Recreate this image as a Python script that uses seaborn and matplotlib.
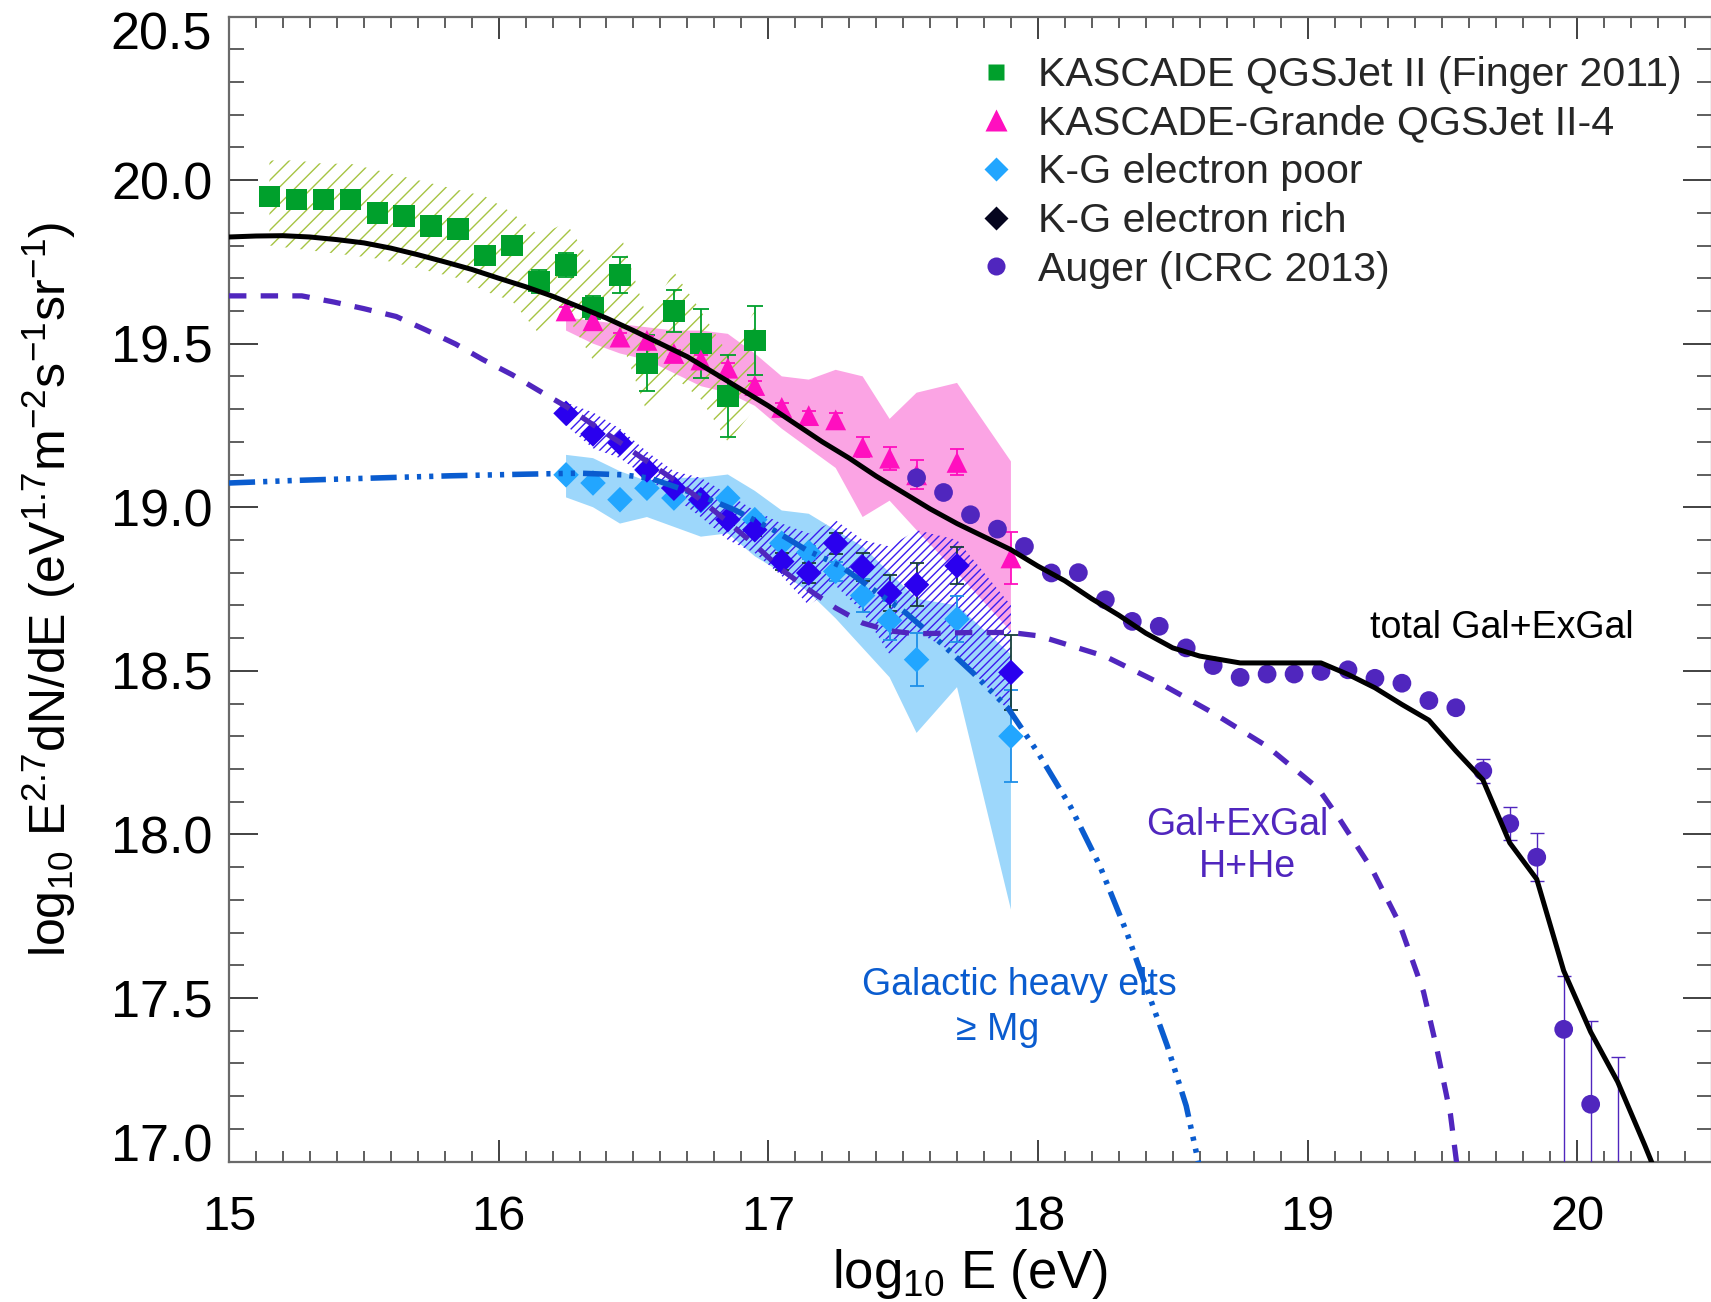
import matplotlib
matplotlib.use("Agg")
import matplotlib.pyplot as plt
import seaborn as sns
from matplotlib.lines import Line2D
from matplotlib.ticker import MultipleLocator
from matplotlib.transforms import ScaledTranslation

# ---------------- data ----------------
kascade_x = [15.15, 15.25, 15.35, 15.45, 15.55, 15.65, 15.75, 15.85, 15.95, 16.05,
             16.15, 16.25, 16.35, 16.45, 16.55, 16.65, 16.75, 16.85, 16.95]
kascade_y = [19.95, 19.94, 19.94, 19.94, 19.90, 19.89, 19.86, 19.85, 19.77, 19.80,
             19.69, 19.74, 19.61, 19.71, 19.44, 19.60, 19.50, 19.34, 19.51]
kascade_err = [0.01, 0.01, 0.01, 0.01, 0.01, 0.01, 0.01, 0.01, 0.01, 0.01,
               0.034, 0.037, 0.035, 0.054, 0.085, 0.064, 0.105, 0.125, 0.105]
kascade_band_hi = [20.06, 20.06, 20.05, 20.05, 20.03, 20.01, 19.99, 19.97, 19.95, 19.90,
                   19.83, 19.87, 19.74, 19.84, 19.58, 19.72, 19.60, 19.47, 19.60]
kascade_band_lo = [19.80, 19.79, 19.78, 19.77, 19.76, 19.74, 19.72, 19.70, 19.66, 19.63,
                   19.53, 19.59, 19.45, 19.52, 19.29, 19.40, 19.33, 19.20, 19.30]

grande_x = [16.25, 16.35, 16.45, 16.55, 16.65, 16.75, 16.85, 16.95,
            17.05, 17.15, 17.25, 17.35, 17.45, 17.55, 17.70, 17.90]
grande_y = [19.60, 19.57, 19.52, 19.51, 19.47, 19.45, 19.425, 19.372,
            19.305, 19.28, 19.267, 19.184, 19.15, 19.099, 19.137, 18.845]
grande_err = [0.012, 0.012, 0.012, 0.012, 0.012, 0.015, 0.015, 0.015,
              0.015, 0.015, 0.02, 0.03, 0.035, 0.044, 0.04, 0.079]
grande_band_hi = [19.58, 19.57, 19.56, 19.55, 19.54, 19.54, 19.53, 19.47,
                  19.40, 19.39, 19.42, 19.40, 19.27, 19.35, 19.38, 19.14]
grande_band_lo = [19.54, 19.50, 19.47, 19.45, 19.41, 19.37, 19.35, 19.31,
                  19.24, 19.18, 19.12, 18.97, 19.02, 18.93, 18.80, 18.62]

epoor_y = [19.099, 19.074, 19.023, 19.058, 19.028, 19.02, 19.028, 18.962,
           18.890, 18.862, 18.804, 18.730, 18.654, 18.534, 18.658, 18.300]
epoor_err = [0.012, 0.012, 0.012, 0.012, 0.012, 0.012, 0.012, 0.012,
             0.015, 0.02, 0.03, 0.05, 0.06, 0.08, 0.07, 0.14]
epoor_band_hi = [19.16, 19.15, 19.11, 19.08, 19.09, 19.09, 19.10, 19.05,
                 18.99, 18.98, 18.93, 18.88, 18.80, 18.72, 18.70, 18.55]
epoor_band_lo = [19.03, 19.00, 18.95, 18.97, 18.94, 18.91, 18.92, 18.85,
                 18.80, 18.74, 18.66, 18.57, 18.48, 18.31, 18.45, 17.77]

erich_y = [19.287, 19.224, 19.196, 19.114, 19.058, 19.023, 18.962, 18.931,
           18.834, 18.799, 18.890, 18.817, 18.738, 18.763, 18.821, 18.495]
erich_err = [0.01, 0.01, 0.01, 0.013, 0.01, 0.01, 0.015, 0.018,
             0.025, 0.03, 0.032, 0.042, 0.056, 0.065, 0.056, 0.115]
erich_band_hi = [19.32, 19.29, 19.24, 19.17, 19.11, 19.09, 19.04, 18.99,
                 18.95, 18.92, 18.96, 18.90, 18.88, 18.93, 18.90, 18.70]
erich_band_lo = [19.25, 19.18, 19.15, 19.09, 19.03, 18.97, 18.90, 18.86,
                 18.79, 18.70, 18.76, 18.68, 18.55, 18.62, 18.55, 18.37]

auger_x = [17.55, 17.65, 17.75, 17.85, 17.95, 18.05, 18.15, 18.25, 18.35, 18.45,
           18.55, 18.65, 18.75, 18.85, 18.95, 19.05, 19.15, 19.25, 19.35, 19.45,
           19.55, 19.65, 19.75, 19.85, 19.95, 20.05, 20.15]
auger_y = [19.09, 19.045, 18.977, 18.933, 18.880, 18.799, 18.800, 18.717, 18.651, 18.636,
           18.570, 18.516, 18.480, 18.490, 18.490, 18.498, 18.503, 18.477, 18.462, 18.409,
           18.387, 18.194, 18.033, 17.930, 17.404, 17.175, 16.85]
auger_err_lo = [0.005] * 21 + [0.037, 0.05, 0.073, 0.6, 0.6, 0.3]
auger_err_hi = [0.005] * 21 + [0.037, 0.05, 0.073, 0.162, 0.256, 0.47]

total_x = [15.0, 15.1, 15.2, 15.3, 15.4, 15.5, 15.6, 15.7, 15.8, 15.9, 16.0, 16.1, 16.2,
           16.3, 16.4, 16.5, 16.6, 16.7, 16.8, 16.9, 17.0, 17.1, 17.2, 17.3, 17.4, 17.5,
           17.6, 17.7, 17.8, 17.9, 18.0, 18.1, 18.2, 18.3, 18.4, 18.5, 18.6, 18.75, 19.05,
           19.15, 19.25, 19.35, 19.45, 19.55, 19.65, 19.75, 19.85, 19.95, 20.05, 20.15,
           20.25, 20.30]
total_y = [19.826, 19.829, 19.830, 19.826, 19.818, 19.808, 19.792, 19.772, 19.750, 19.727,
           19.700, 19.674, 19.645, 19.612, 19.578, 19.540, 19.500, 19.460, 19.410, 19.360,
           19.310, 19.255, 19.200, 19.150, 19.095, 19.045, 18.995, 18.950, 18.910, 18.870,
           18.820, 18.775, 18.720, 18.670, 18.615, 18.570, 18.545, 18.524, 18.524, 18.489,
           18.448, 18.397, 18.349, 18.255, 18.167, 17.974, 17.863, 17.583, 17.396, 17.244,
           17.051, 16.95]

hhe_x = [15.0, 15.27, 15.39, 15.50, 15.62, 15.73, 15.84, 15.94, 16.05, 16.15, 16.25,
         16.35, 16.45, 16.55, 16.65, 16.75, 16.85, 16.95, 17.05, 17.15, 17.25, 17.35,
         17.45, 17.55, 17.65, 17.75, 17.9, 18.0, 18.05, 18.25, 18.45, 18.65, 18.85,
         19.04, 19.12, 19.24, 19.34, 19.43, 19.48, 19.53, 19.56]
hhe_y = [19.646, 19.646, 19.627, 19.607, 19.583, 19.542, 19.499, 19.452, 19.405, 19.356,
         19.308, 19.252, 19.198, 19.14, 19.084, 19.022, 18.955, 18.885, 18.809, 18.748,
         18.692, 18.646, 18.622, 18.613, 18.615, 18.617, 18.617, 18.607, 18.595, 18.544,
         18.463, 18.371, 18.269, 18.14, 18.045, 17.892, 17.729, 17.519, 17.343, 17.144,
         16.95]

heavy_x = [15.0, 15.25, 15.53, 15.82, 16.1, 16.3, 16.46, 16.56, 16.67, 16.77, 16.88, 17.02,
           17.14, 17.27, 17.39, 17.51, 17.64, 17.76, 17.89, 18.0, 18.12, 18.23, 18.33,
           18.40, 18.48, 18.55, 18.60]
heavy_y = [19.074, 19.082, 19.089, 19.096, 19.101, 19.104, 19.099, 19.089, 19.058, 19.028,
           18.99, 18.93, 18.87, 18.819, 18.748, 18.677, 18.585, 18.493, 18.385, 18.25,
           18.086, 17.903, 17.699, 17.536, 17.353, 17.17, 16.98]

x_ticks = [15, 16, 17, 18, 19, 20]
x_ticklabels = ["15", "16", "17", "18", "19", "20"]
y_ticks = [17.0, 17.5, 18.0, 18.5, 19.0, 19.5, 20.0, 20.5]
y_ticklabels = ["17.0", "17.5", "18.0", "18.5", "19.0", "19.5", "20.0", "20.5"]

legend_labels = ["KASCADE QGSJet II (Finger 2011)", "KASCADE-Grande QGSJet II-4",
                 "K-G electron poor", "K-G electron rich", "Auger (ICRC 2013)"]

# ---------------- style ----------------
GREEN = "#00A02C"
GREEN_HATCH = "#A6C443"
MAGENTA = "#FF0FBF"
PINK_BAND = "#FBA4E4"
LBLUE = "#22A6FF"
LBLUE_BAND = "#9DD7FB"
DBLUE = "#2A00EE"
DBLUE_HATCH = "#3B1CF0"
DBLUE_ERR = "#17403A"
PURPLE = "#5026BE"
BLUE_LINE = "#0A5CCF"

sns.set_theme(style="ticks")
plt.rcParams["font.family"] = ["Liberation Sans", "DejaVu Sans"]
plt.rcParams["mathtext.fontset"] = "custom"
plt.rcParams["mathtext.rm"] = "Liberation Sans"
plt.rcParams["mathtext.it"] = "Liberation Sans:italic"
plt.rcParams["mathtext.bf"] = "Liberation Sans:bold"
plt.rcParams["hatch.linewidth"] = 1.0

fig = plt.figure(figsize=(17.11, 13.02), dpi=100)
ax = fig.add_axes([229 / 1711, 1 - 1161.5 / 1302, 1483 / 1711, 1145 / 1302])

# bands
ax.fill_between(grande_x, grande_band_lo, grande_band_hi, facecolor=PINK_BAND,
                edgecolor="none", linewidth=0, zorder=1.0)
ax.fill_between(kascade_x, kascade_band_lo, kascade_band_hi, facecolor="none",
                edgecolor=GREEN_HATCH, hatch="//", linewidth=0, zorder=1.2)
ax.fill_between(grande_x, epoor_band_lo, epoor_band_hi, facecolor=LBLUE_BAND,
                edgecolor="none", linewidth=0, zorder=1.3)
ax.fill_between(grande_x, erich_band_lo, erich_band_hi, facecolor="none",
                edgecolor=DBLUE_HATCH, hatch="////", linewidth=0, zorder=1.4)

# error bars
eb = dict(fmt="none", elinewidth=1.3, capthick=1.3, zorder=3)
ax.errorbar(kascade_x, kascade_y, yerr=kascade_err, ecolor=GREEN, capsize=5.5, **eb)
ax.errorbar(grande_x, grande_y, yerr=grande_err, ecolor=MAGENTA, capsize=5.0, **eb)
ax.errorbar(grande_x, epoor_y, yerr=epoor_err, ecolor="#1E8FE8", capsize=5.0, **eb)
ax.errorbar(grande_x, erich_y, yerr=erich_err, ecolor=DBLUE_ERR, capsize=5.0, **eb)
ax.errorbar(auger_x, auger_y, yerr=[auger_err_lo, auger_err_hi], ecolor=PURPLE,
            capsize=5.0, fmt="none", elinewidth=1.0, capthick=1.0, zorder=3)

# markers
sc = dict(edgecolor="none", linewidth=0, ax=ax, legend=False, zorder=4)
sns.scatterplot(x=kascade_x, y=kascade_y, marker="s", s=15.5 ** 2, color=GREEN, **sc)
sns.scatterplot(x=grande_x, y=grande_y, marker="^", s=15 ** 2, color=MAGENTA, **sc)
sns.scatterplot(x=grande_x, y=epoor_y, marker="D", s=13 ** 2, color=LBLUE, **sc)
sns.scatterplot(x=grande_x, y=erich_y, marker="D", s=13 ** 2, color=DBLUE, **sc)
sns.scatterplot(x=auger_x, y=auger_y, marker="o", s=13.5 ** 2, color=PURPLE, **sc)

# model lines
sns.lineplot(x=heavy_x, y=heavy_y, sort=False, estimator=None, color=BLUE_LINE,
             linewidth=4.0, ax=ax, zorder=5)
ln = ax.lines[-1]
ln.set_linestyle((0, (4.7, 1.45, 0.75, 1.45, 0.75, 1.45, 0.75, 1.45)))
ln.set_dash_capstyle("butt")

sns.lineplot(x=hhe_x, y=hhe_y, sort=False, estimator=None, color=PURPLE,
             linewidth=3.8, ax=ax, zorder=5)
ln = ax.lines[-1]
ln.set_linestyle((0, (3.3, 2.7)))
ln.set_dash_capstyle("butt")

sns.lineplot(x=total_x, y=total_y, sort=False, estimator=None, color="black",
             linewidth=3.6, ax=ax, zorder=5.5)

# annotations
ax.text(19.72, 18.599, "total Gal+ExGal", ha="center", va="baseline", fontsize=27,
        color="black", zorder=6)
ax.text(18.739, 17.998, "Gal+ExGal", ha="center", va="baseline", fontsize=27,
        color=PURPLE, zorder=6)
ax.text(18.778, 17.870, "H+He", ha="center", va="baseline", fontsize=27,
        color=PURPLE, zorder=6)
ax.text(17.930, 17.509, "Galactic heavy elts", ha="center", va="baseline", fontsize=27,
        color=BLUE_LINE, zorder=4.5)
ax.text(17.852, 17.371, "\u2265 Mg", ha="center", va="baseline", fontsize=27,
        color=BLUE_LINE, zorder=4.5)

# legend
handles = [
    Line2D([], [], ls="none", marker="s", ms=12, color=GREEN, mec="none"),
    Line2D([], [], ls="none", marker="^", ms=16, color=MAGENTA, mec="none"),
    Line2D([], [], ls="none", marker="D", ms=12, color=LBLUE, mec="none"),
    Line2D([], [], ls="none", marker="D", ms=12, color="#05051E", mec="none"),
    Line2D([], [], ls="none", marker="o", ms=13, color=PURPLE, mec="none"),
]
ax.legend(handles, legend_labels, loc="upper left",
          bbox_to_anchor=(975 / 1711, 1 - 56 / 1302), bbox_transform=fig.transFigure,
          frameon=False, fontsize=29.6, handlelength=1.0, handletextpad=0.54,
          labelspacing=0.26, borderpad=0, borderaxespad=0)

# axes
ax.set_xlim(15, 20.5)
ax.set_ylim(17, 20.5)
ax.set_xticks(x_ticks, labels=x_ticklabels)
ax.set_yticks(y_ticks, labels=y_ticklabels)
ax.xaxis.set_minor_locator(MultipleLocator(0.1))
ax.yaxis.set_minor_locator(MultipleLocator(0.1))
ax.tick_params(axis="x", which="major", direction="in", length=16, width=1.3,
               labelsize=35, pad=24, top=True, bottom=True, color="#333333",
               labelcolor="black")
ax.tick_params(axis="x", which="minor", direction="in", length=8, width=1.1,
               top=True, bottom=True, color="#333333")
ax.tick_params(axis="y", which="major", direction="in", length=21, width=1.3,
               labelsize=37.5, pad=12, left=True, right=True, color="#333333",
               labelcolor="black")
ax.tick_params(axis="y", which="minor", direction="in", length=10.5, width=1.1,
               left=True, right=True, color="#333333")
for s in ax.spines.values():
    s.set_linewidth(1.6)
    s.set_color("#6a6a6a")

yt = ax.yaxis.get_major_ticks()
yt[0].label1.set_va("baseline")
top_lab = yt[-1].label1
top_lab.set_va("top")
top_lab.set_transform(top_lab.get_transform()
                      + ScaledTranslation(0, 3.5 / 72, fig.dpi_scale_trans))

ax.set_xlabel(r"log$_{10}$ E (eV)", fontsize=38, color="black")
ax.xaxis.set_label_coords(0.5, -0.1105)
ax.xaxis.label.set_va("baseline")
ax.set_ylabel(r"log$_{10}$ E$^{2.7}$dN/dE (eV$^{1.7}$m$^{-2}$s$^{-1}$sr$^{-1}$)",
              fontsize=36, color="black")
ax.yaxis.set_label_coords((49 - 229) / 1483, 0.5)
ax.yaxis.label.set_va("center")

fig.savefig("out.png", dpi=100)
